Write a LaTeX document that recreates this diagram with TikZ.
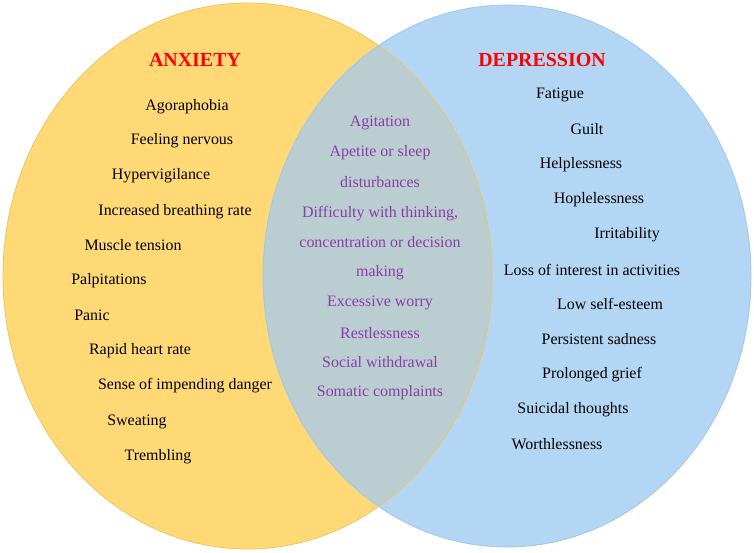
\documentclass[tikz,border=0pt]{standalone}
\usepackage{fontspec}
\setmainfont{Liberation Serif}
\usepackage{xcolor}
\usetikzlibrary{positioning}

\definecolor{anxfill}{RGB}{254,217,118}
\definecolor{anxedge}{RGB}{240,196,96}
\definecolor{depfill}{RGB}{178,214,243}
\definecolor{depedge}{RGB}{160,198,232}
\definecolor{bothfill}{RGB}{186,205,208}
\definecolor{symppurple}{RGB}{140,60,170}

\begin{document}
\begin{tikzpicture}[x=1bp, y=-1bp]
\tikzset{
title/.style={text=red, font=\fontsize{20}{24}\selectfont\bfseries, inner sep=0pt, yshift=-1bp},
symptom/.style={text=black, font=\fontsize{16}{19}\selectfont, inner sep=0pt, yshift=-2.5bp},
shared/.style={text=symppurple, font=\fontsize{16}{19}\selectfont, inner sep=0pt, yshift=-2.5bp}
}
\useasboundingbox (0,0) rectangle (754,553);

% the two sets
\fill[anxfill] (247.5,276) ellipse [x radius=244.5bp, y radius=273bp];
\fill[depfill] (507,276) ellipse [x radius=244bp, y radius=271bp];
\begin{scope}
\clip (247.5,276) ellipse [x radius=244.5bp, y radius=273bp];
\fill[bothfill] (507,276) ellipse [x radius=244bp, y radius=271bp];
\end{scope}
\draw[anxedge, line width=0.8pt] (247.5,276) ellipse [x radius=244.5bp, y radius=273bp];
\draw[depedge, line width=0.8pt] (507,276) ellipse [x radius=244bp, y radius=271bp];

% anxiety
\node[title] (anxiety) at (195,59) {ANXIETY};
\node[symptom] (agora) at (187,104) {Agoraphobia};
\node[symptom] (nervous) at (182,138) {Feeling nervous};
\node[symptom] (hyper) at (161,173) {Hypervigilance};
\node[symptom] (breath) at (175,209) {Increased breathing rate};
\node[symptom] (muscle) at (133,243) {Muscle tension};
\node[symptom] (palp) at (109,278) {Palpitations};
\node[symptom] (panic) at (92,313) {Panic};
\node[symptom] (heart) at (140,348) {Rapid heart rate};
\node[symptom] (danger) at (185,383) {Sense of impending danger};
\node[symptom] (sweat) at (137,419) {Sweating};
\node[symptom] (tremb) at (158,454) {Trembling};

% both
\node[shared] (agit) at (380,120) {Agitation};
\node[shared] (apetite) at (380,150) {Apetite or sleep};
\node[shared] (disturb) at (380,180) {disturbances};
\node[shared] (think) at (380,211) {Difficulty with thinking,};
\node[shared] (concen) at (380,240) {concentration or decision};
\node[shared] (making) at (380,270) {making};
\node[shared] (worry) at (380,300) {Excessive worry};
\node[shared] (restless) at (380,331) {Restlessness};
\node[shared] (withdraw) at (380,360) {Social withdrawal};
\node[shared] (somatic) at (380,390) {Somatic complaints};

% depression
\node[title] (depression) at (542,59) {DEPRESSION};
\node[symptom] (fatigue) at (560,92) {Fatigue};
\node[symptom] (guilt) at (587,127) {Guilt};
\node[symptom] (helpless) at (581,162) {Helplessness};
\node[symptom] (hopeless) at (599,197) {Hoplelessness};
\node[symptom] (irrit) at (627,232) {Irritability};
\node[symptom] (interest) at (592,267) {Loss of interest in activities};
\node[symptom] (esteem) at (610,301) {Low self-esteem};
\node[symptom] (sad) at (599,337) {Persistent sadness};
\node[symptom] (grief) at (592,372) {Prolonged grief};
\node[symptom] (suicid) at (573,407) {Suicidal thoughts};
\node[symptom] (worth) at (557,442) {Worthlessness};
\end{tikzpicture}
\end{document}
